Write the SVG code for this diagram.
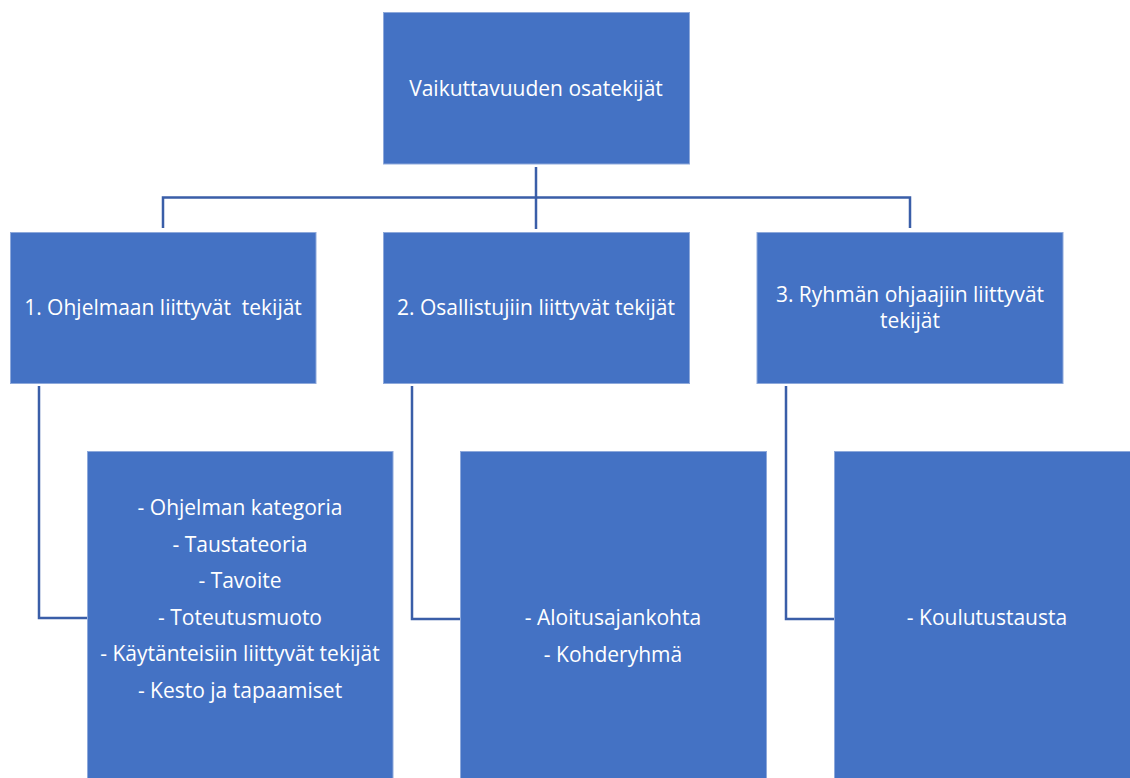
<svg xmlns="http://www.w3.org/2000/svg" width="1130" height="778" viewBox="0 0 1130 778">
<style>
.box{fill:#4472C4;stroke:#8EA9DB;stroke-width:1}
.t{font-family:"Open Sans","Liberation Sans",sans-serif;font-size:21px;fill:#FFFFFF;text-anchor:middle}
.c{fill:none;stroke:#3A5EA8;stroke-width:2.5}
</style>
<rect width="1130" height="778" fill="#FFFFFF"/>
<g id="connectors">
<path class="c" d="M536 167V229"/>
<path class="c" d="M163 228V197.5H910V228"/>
<path class="c" d="M39 386V618H87"/>
<path class="c" d="M412 386V619H460"/>
<path class="c" d="M786 386V619H834"/>
</g>
<g id="root">
<rect class="box" x="383.5" y="12.5" width="306" height="151.5"/>
<text class="t" x="536" y="96">Vaikuttavuuden osatekijät</text>
</g>
<g id="n1">
<rect class="box" x="10.5" y="232.5" width="305.5" height="151"/>
<text class="t" x="163" y="315" xml:space="preserve">1. Ohjelmaan liittyvät  tekijät</text>
</g>
<g id="n2">
<rect class="box" x="383.5" y="232.5" width="306" height="151"/>
<text class="t" x="536" y="315">2. Osallistujiin liittyvät tekijät</text>
</g>
<g id="n3">
<rect class="box" x="757" y="232.5" width="306" height="151"/>
<text class="t" x="910" y="302">3. Ryhmän ohjaajiin liittyvät</text>
<text class="t" x="910" y="328">tekijät</text>
</g>
<g id="d1">
<rect class="box" x="87.5" y="451.5" width="305.5" height="340"/>
<text class="t" x="240" y="515">- Ohjelman kategoria</text>
<text class="t" x="240" y="551.5">- Taustateoria</text>
<text class="t" x="240" y="588">- Tavoite</text>
<text class="t" x="240" y="624.5">- Toteutusmuoto</text>
<text class="t" x="240" y="661">- Käytänteisiin liittyvät tekijät</text>
<text class="t" x="240" y="697.5">- Kesto ja tapaamiset</text>
</g>
<g id="d2">
<rect class="box" x="460.5" y="451.5" width="306" height="340"/>
<text class="t" x="613" y="625">- Aloitusajankohta</text>
<text class="t" x="613" y="661.5">- Kohderyhmä</text>
</g>
<g id="d3">
<rect class="box" x="834.5" y="451.5" width="306" height="340"/>
<text class="t" x="987" y="625">- Koulutustausta</text>
</g>
</svg>
